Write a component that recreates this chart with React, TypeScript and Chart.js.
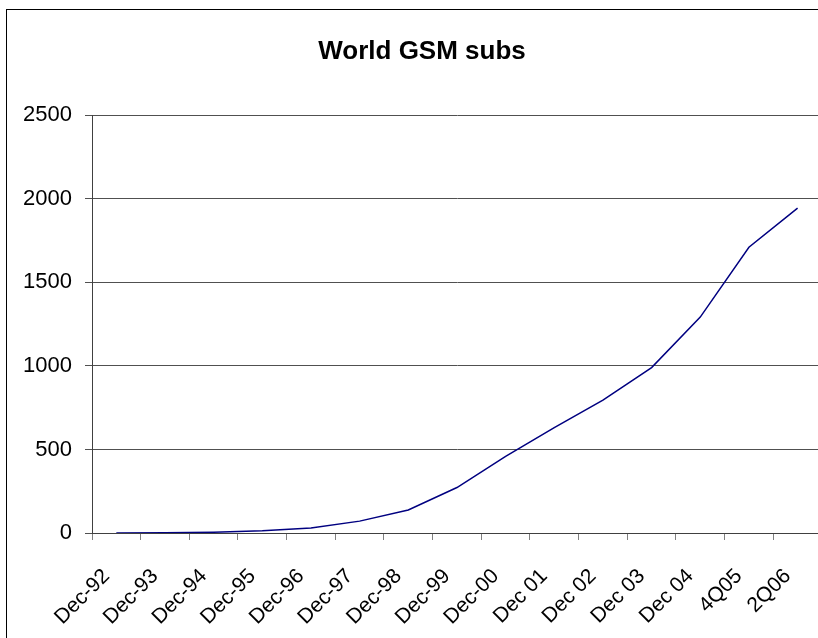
import React, { useEffect, useRef } from "react";
import { Chart, registerables } from "chart.js";

Chart.register(...registerables);

const chartTitle = "World GSM subs";
const categories = [
  "Dec-92", "Dec-93", "Dec-94", "Dec-95", "Dec-96", "Dec-97", "Dec-98", "Dec-99",
  "Dec-00", "Dec 01", "Dec 02", "Dec 03", "Dec 04", "4Q05", "2Q06",
];
const subscribers = [0.3, 1.5, 5, 14, 30, 71, 138, 272, 458, 630, 795, 990, 1292, 1710, 1944];
const yTicks = [0, 500, 1000, 1500, 2000, 2500];

const FONT = "'Liberation Sans', Arial, Helvetica, sans-serif";

export default function App() {
  const ref = useRef<HTMLCanvasElement>(null);

  useEffect(() => {
    if (!ref.current) return;
    const chart = new Chart(ref.current, {
      type: "line",
      data: {
        labels: categories,
        datasets: [
          {
            data: subscribers,
            borderColor: "#000080",
            backgroundColor: "#000080",
            borderWidth: 1.5,
            pointRadius: 0,
            pointHoverRadius: 0,
            tension: 0,
            fill: false,
          },
        ],
      },
      options: {
        responsive: false,
        animation: false,
        devicePixelRatio: 1,
        layout: { padding: { left: 22, right: 18, top: 0, bottom: 0 } },
        plugins: {
          legend: { display: false },
          tooltip: { enabled: false },
          title: {
            display: true,
            text: chartTitle,
            color: "#000",
            font: { family: FONT, size: 26, weight: "bold" },
            padding: { top: 36, bottom: 48 },
          },
        },
        scales: {
          x: {
            offset: true,
            grid: {
              offset: true,
              drawOnChartArea: false,
              drawTicks: true,
              tickLength: 7,
              color: "#808080",
              lineWidth: 1,
            },
            border: { display: true, color: "#404040", width: 1 },
            ticks: {
              autoSkip: false,
              maxRotation: 45,
              minRotation: 45,
              padding: 24,
              labelOffset: -10,
              color: "#000",
              font: { family: FONT, size: 21 },
            },
            afterFit: (s: any) => {
              s.height = 105;
            },
          },
          y: {
            min: 0,
            max: 2500,
            afterBuildTicks: (s: any) => {
              s.ticks = yTicks.map((v) => ({ value: v }));
            },
            grid: { color: "#505050", lineWidth: 1, tickLength: 7 },
            border: { display: true, color: "#404040", width: 1 },
            ticks: {
              padding: 13,
              color: "#000",
              font: { family: FONT, size: 22 },
              callback: (v: any) => String(v),
            },
            afterFit: (s: any) => {
              s.width = 70;
            },
          },
        },
      },
    });
    return () => chart.destroy();
  }, []);

  return (
    <div
      style={{
        position: "fixed",
        left: 0,
        top: 0,
        width: 818,
        height: 638,
        overflow: "hidden",
        background: "#fff",
      }}
    >
      <div
        style={{
          position: "absolute",
          left: 6,
          top: 9,
          width: 900,
          height: 800,
          borderLeft: "1px solid #000",
          borderTop: "1px solid #000",
        }}
      />
      <canvas
        ref={ref}
        width={840}
        height={638}
        style={{ position: "absolute", left: 0, top: 0, display: "block" }}
      />
    </div>
  );
}
